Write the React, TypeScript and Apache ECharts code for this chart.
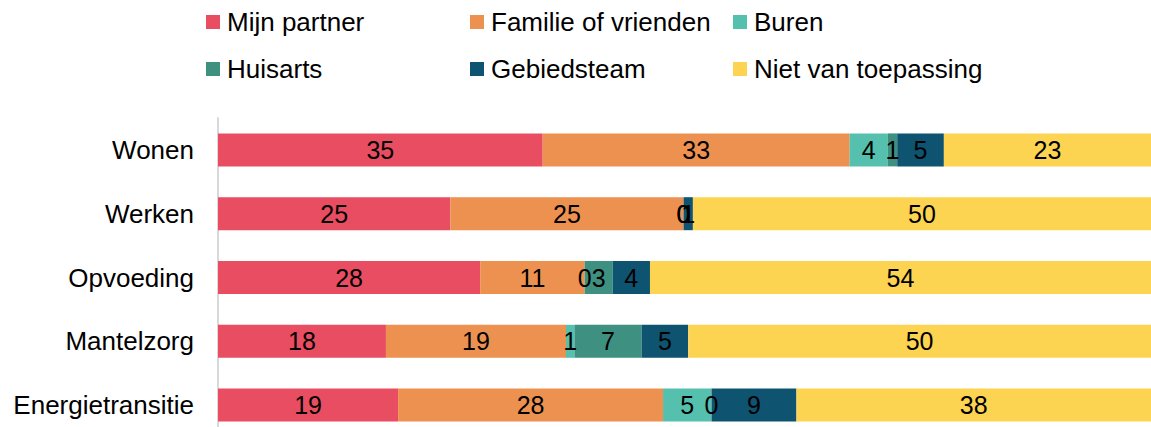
import React, { useEffect, useRef } from "react";
import * as echarts from "echarts";

const categories = ["Wonen", "Werken", "Opvoeding", "Mantelzorg", "Energietransitie"];
const seriesNames = ["Mijn partner", "Familie of vrienden", "Buren", "Huisarts", "Gebiedsteam", "Niet van toepassing"];
const mijnPartner = [34.8, 24.9, 28.1, 18.0, 19.3];
const familieOfVrienden = [32.9, 25.0, 11.2, 19.3, 28.4];
const buren = [4.1, 0, 0, 0.9, 5.2];
const huisarts = [1.0, 0, 3.0, 7.2, 0];
const gebiedsteam = [5.0, 1.0, 4.0, 5.0, 9.1];
const nietVanToepassing = [22.6, 49.6, 53.7, 49.6, 38.0];
const colors = ["#E84D62", "#ED9151", "#55C0AD", "#3E9180", "#0E5370", "#FDD451"];

const legendPos = [
  [206, 9],
  [470, 9],
  [733, 9],
  [206, 56],
  [470, 56],
  [733, 56],
];

export default function App() {
  const ref = useRef<HTMLDivElement>(null);
  useEffect(() => {
    if (!ref.current) return;
    document.body.style.margin = "0";
    document.body.style.overflow = "hidden";
    document.documentElement.style.overflow = "hidden";
    const chart = echarts.init(ref.current, null, { renderer: "svg" });
    const values = [mijnPartner, familieOfVrienden, buren, huisarts, gebiedsteam, nietVanToepassing];
    const font = "'Liberation Sans', Arial, sans-serif";
    chart.setOption({
      animation: false,
      textStyle: { fontFamily: font },
      legend: seriesNames.map((n, i) => ({
        data: [n],
        left: legendPos[i][0],
        top: legendPos[i][1],
        padding: 0,
        itemWidth: 14,
        itemHeight: 14,
        icon: "rect",
        selectedMode: false,
        textStyle: { fontSize: 26, color: "#000", fontFamily: font, padding: [0, 0, 0, 2] },
      })),
      grid: { left: 218, top: 118, width: 933, height: 319, containLabel: false },
      xAxis: { type: "value", min: 0, max: 100, show: false },
      yAxis: {
        type: "category",
        data: categories,
        inverse: true,
        axisLine: { show: true, lineStyle: { color: "#d9d9d9", width: 2 } },
        axisTick: { show: false },
        axisLabel: { margin: 24, fontSize: 26, color: "#000", fontFamily: font },
      },
      series: seriesNames.map((n, i) => ({
        name: n,
        type: "bar",
        stack: "total",
        barWidth: 33,
        data: values[i],
        itemStyle: { color: colors[i] },
        label: {
          show: true,
          position: "inside",
          fontSize: 25,
          color: "#000",
          fontFamily: font,
          formatter: (p: any) => String(Math.round(p.value)),
        },
      })),
    });
    return () => chart.dispose();
  }, []);
  return (
    <div style={{ position: "absolute", left: 0, top: 0, width: 1151, height: 427, overflow: "hidden" }}>
      <div ref={ref} style={{ width: 1151, height: 445 }} />
    </div>
  );
}
